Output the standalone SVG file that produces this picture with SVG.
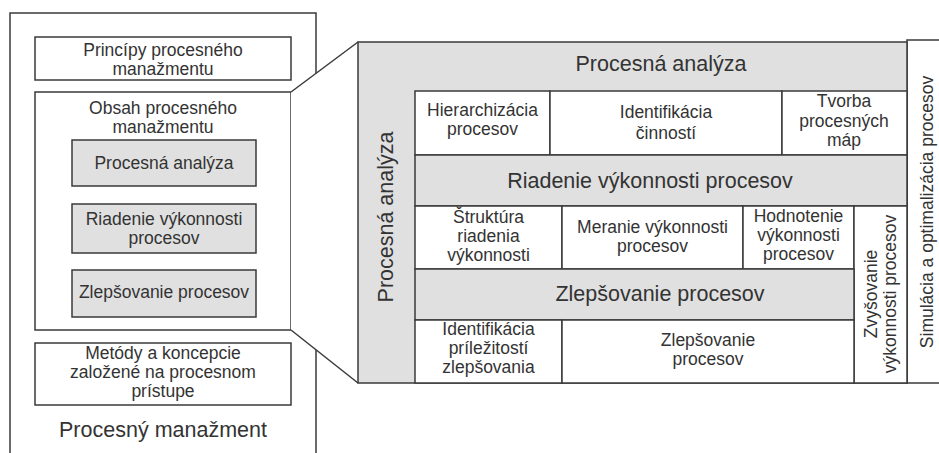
<svg xmlns="http://www.w3.org/2000/svg" width="939" height="453" viewBox="0 0 939 453">
  <style>
    .box { fill: #ffffff; stroke: #3a3a3a; stroke-width: 1.5; }
    .gray { fill: #e0e0e0; stroke: #3a3a3a; stroke-width: 1.5; }
    .ln { fill: none; stroke: #3a3a3a; stroke-width: 1.5; }
    text { font-family: "Liberation Sans", Arial, sans-serif; fill: #333333; text-anchor: middle; }
    .s { font-size: 17.5px; }
    .l { font-size: 21.5px; }
  </style>

  <!-- Left panel: process management -->
  <g id="procesny-manazment">
    <rect class="box" x="10" y="13" width="306" height="460"/>
    <text class="l" x="163" y="437">Procesný manažment</text>
  </g>

  <g id="principy">
    <rect class="box" x="35" y="37" width="256" height="43"/>
    <text class="s" x="163" y="56">Princípy procesného</text>
    <text class="s" x="163" y="75">manažmentu</text>
  </g>

  <g id="obsah">
    <rect class="box" x="35" y="92" width="256" height="238"/>
    <text class="s" x="163" y="114">Obsah procesného</text>
    <text class="s" x="163" y="133">manažmentu</text>
  </g>

  <g id="obsah-analyza">
    <rect class="gray" x="72" y="140" width="184" height="46"/>
    <text class="s" x="164" y="169">Procesná analýza</text>
  </g>

  <g id="obsah-riadenie">
    <rect class="gray" x="72" y="204" width="184" height="49"/>
    <text class="s" x="164" y="225">Riadenie výkonnosti</text>
    <text class="s" x="164" y="244">procesov</text>
  </g>

  <g id="obsah-zlepsovanie">
    <rect class="gray" x="72" y="270" width="184" height="47"/>
    <text class="s" x="164" y="298">Zlepšovanie procesov</text>
  </g>

  <g id="metody">
    <rect class="box" x="35" y="343" width="256" height="62"/>
    <text class="s" x="163" y="359">Metódy a koncepcie</text>
    <text class="s" x="163" y="378">založené na procesnom</text>
    <text class="s" x="163" y="397">prístupe</text>
  </g>

  <!-- Callout linking the content box to the detailed panel -->
  <g id="connectors">
    <polygon points="291,92 358,42 358,383 291,330" fill="#ffffff" stroke="none"/>
    <line class="ln" x1="291" y1="92" x2="358" y2="42"/>
    <line class="ln" x1="291" y1="330" x2="358" y2="383"/>
  </g>

  <!-- Right strip: simulation and optimisation -->
  <g id="simulacia">
    <rect class="box" x="907" y="40" width="40" height="343"/>
    <text class="s" transform="translate(933,212) rotate(-90)">Simulácia a optimalizácia procesov</text>
  </g>

  <!-- Detailed panel: process analysis -->
  <g id="procesna-analyza">
    <rect class="gray" x="358" y="42" width="549" height="341"/>
    <text class="l" x="661" y="71">Procesná analýza</text>
    <text class="l" transform="translate(393,217) rotate(-90)">Procesná analýza</text>
  </g>

  <g id="hierarchizacia">
    <rect class="box" x="415" y="91" width="135" height="64"/>
    <text class="s" x="482.5" y="116">Hierarchizácia</text>
    <text class="s" x="482.5" y="135">procesov</text>
  </g>

  <g id="identifikacia-cinnosti">
    <rect class="box" x="550" y="91" width="232" height="64"/>
    <text class="s" x="666" y="118">Identifikácia</text>
    <text class="s" x="666" y="139">činností</text>
  </g>

  <g id="tvorba-map">
    <rect class="box" x="782" y="91" width="125" height="64"/>
    <text class="s" x="844" y="107">Tvorba</text>
    <text class="s" x="844" y="127">procesných</text>
    <text class="s" x="844" y="146">máp</text>
  </g>

  <g id="riadenie-vykonnosti">
    <rect class="gray" x="415" y="155" width="492" height="51"/>
    <text class="l" x="650" y="188">Riadenie výkonnosti procesov</text>
  </g>

  <g id="struktura-riadenia">
    <rect class="box" x="415" y="206" width="147" height="63"/>
    <text class="s" x="488.5" y="223">Štruktúra</text>
    <text class="s" x="488.5" y="242">riadenia</text>
    <text class="s" x="488.5" y="261">výkonnosti</text>
  </g>

  <g id="meranie-vykonnosti">
    <rect class="box" x="562" y="206" width="181" height="63"/>
    <text class="s" x="652.5" y="233">Meranie výkonnosti</text>
    <text class="s" x="652.5" y="252">procesov</text>
  </g>

  <g id="hodnotenie-vykonnosti">
    <rect class="box" x="743" y="206" width="111" height="63"/>
    <text class="s" x="798.5" y="222">Hodnotenie</text>
    <text class="s" x="798.5" y="241">výkonnosti</text>
    <text class="s" x="798.5" y="260">procesov</text>
  </g>

  <g id="zvysovanie-vykonnosti">
    <rect class="box" x="854" y="206" width="53" height="177"/>
    <text class="s" transform="translate(877,294) rotate(-90)">Zvyšovanie</text>
    <text class="s" transform="translate(896,294) rotate(-90)">výkonnosti procesov</text>
  </g>

  <g id="zlepsovanie">
    <rect class="gray" x="415" y="269" width="439" height="51"/>
    <text class="l" x="660" y="301">Zlepšovanie procesov</text>
  </g>

  <g id="prilezitosti">
    <rect class="box" x="415" y="320" width="147" height="63"/>
    <text class="s" x="488.5" y="335">Identifikácia</text>
    <text class="s" x="488.5" y="354">príležitostí</text>
    <text class="s" x="488.5" y="373">zlepšovania</text>
  </g>

  <g id="zlepsovanie-procesov">
    <rect class="box" x="562" y="320" width="292" height="63"/>
    <text class="s" x="708" y="346">Zlepšovanie</text>
    <text class="s" x="708" y="365">procesov</text>
  </g>
</svg>
